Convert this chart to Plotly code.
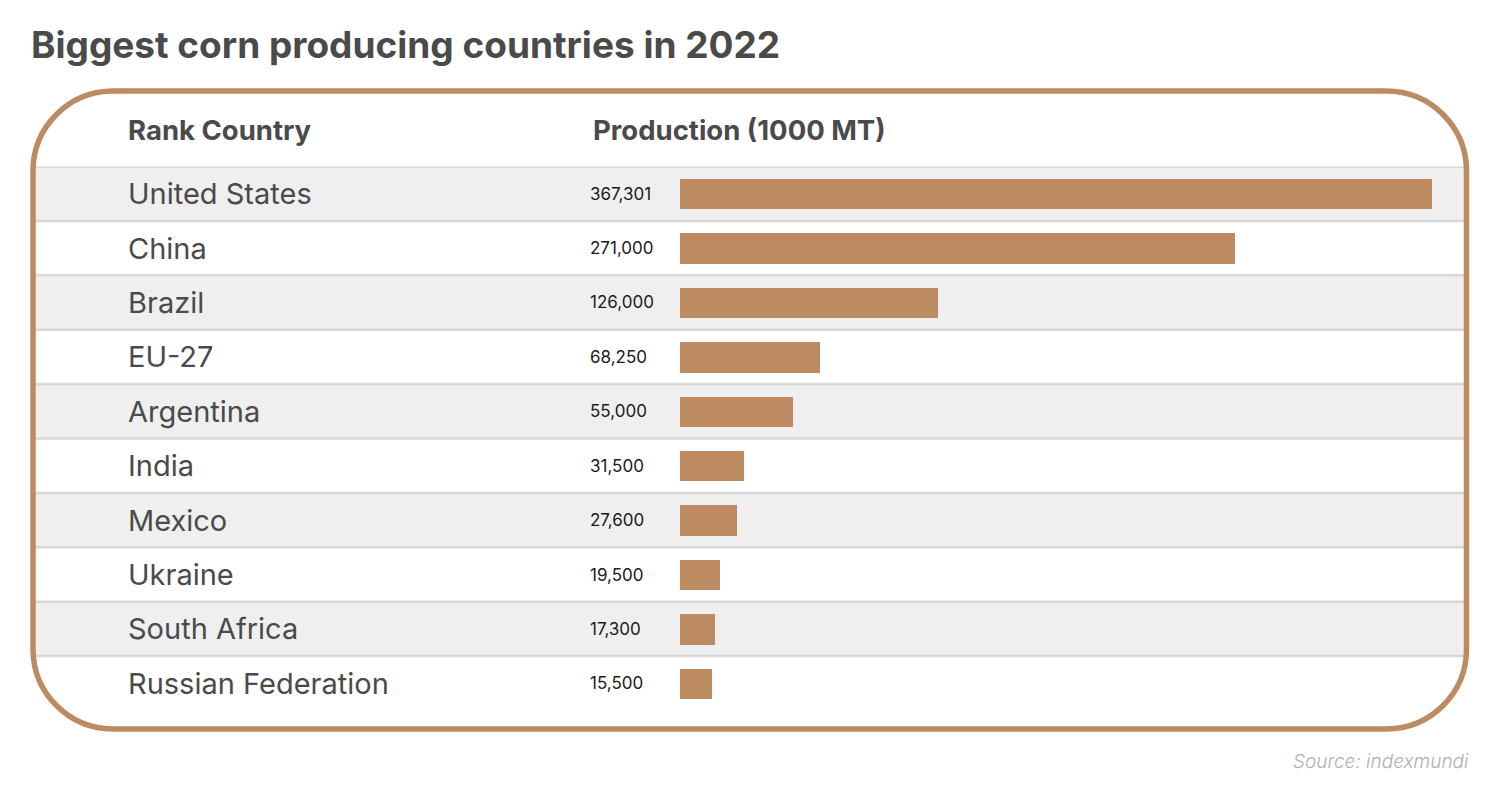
import plotly.graph_objects as go

countries = ["United States", "China", "Brazil", "EU-27", "Argentina", "India",
             "Mexico", "Ukraine", "South Africa", "Russian Federation"]
production = [367301, 271000, 126000, 68250, 55000, 31500, 27600, 19500, 17300, 15500]

title_text = "Biggest corn producing countries in 2022"
header_left = "Rank Country"
header_right = "Production (1000 MT)"
source_text = "Source: indexmundi"

W, H = 1500, 812
OFF = 8  # page body margin
BORDER = "#bc8b62"
BAR = "#bc8b62"
FONT = "Inter"


def px(x):
    return (x - OFF) / W


def py(y):
    return 1 - (y - OFF) / H


n = len(countries)
row_top, row_bot = 166.5, 710.5
fig = go.Figure()
fig.add_trace(go.Bar(
    y=countries, x=production, orientation="h",
    marker=dict(color=BAR, line=dict(width=0)), width=0.56,
    hoverinfo="skip",
))

shapes = []
for i in range(0, n, 2):
    shapes.append(dict(type="rect", xref="paper", yref="y", x0=px(35), x1=px(1465),
                       y0=i - 0.5, y1=i + 0.5, fillcolor="#efefef", line=dict(width=0),
                       layer="below"))
for i in range(n):
    shapes.append(dict(type="line", xref="paper", yref="y", x0=px(35), x1=px(1465),
                       y0=i - 0.5, y1=i - 0.5, line=dict(color="#d7d7d7", width=2.5),
                       layer="below"))

x0, x1, y0, y1, r = 33, 1466.5, 91, 729, 80
k = 0.5523 * r


def P(x, y):
    return f"{px(x):.6f},{py(y):.6f}"


path = (f"M {P(x0 + r, y0)} L {P(x1 - r, y0)} "
        f"C {P(x1 - r + k, y0)} {P(x1, y0 + r - k)} {P(x1, y0 + r)} "
        f"L {P(x1, y1 - r)} "
        f"C {P(x1, y1 - r + k)} {P(x1 - r + k, y1)} {P(x1 - r, y1)} "
        f"L {P(x0 + r, y1)} "
        f"C {P(x0 + r - k, y1)} {P(x0, y1 - r + k)} {P(x0, y1 - r)} "
        f"L {P(x0, y0 + r)} "
        f"C {P(x0, y0 + r - k)} {P(x0 + r - k, y0)} {P(x0 + r, y0)} Z")
shapes.append(dict(type="path", xref="paper", yref="paper", path=path,
                   line=dict(color=BORDER, width=5.5), layer="above"))

annotations = [
    dict(text=f"<b>{title_text}</b>", x=px(29), y=py(45), xref="paper", yref="paper",
         xanchor="left", yanchor="middle", showarrow=False,
         font=dict(family=FONT, size=37, color="#4a4a4a")),
    dict(text=f"<b>{header_left}</b>", x=px(126), y=py(130), xref="paper", yref="paper",
         xanchor="left", yanchor="middle", showarrow=False,
         font=dict(family=FONT, size=27.5, color="#4a4a4a")),
    dict(text=f"<b>{header_right}</b>", x=px(591), y=py(130), xref="paper", yref="paper",
         xanchor="left", yanchor="middle", showarrow=False,
         font=dict(family=FONT, size=27.5, color="#4a4a4a")),
    dict(text=f"<i>{source_text}</i>", x=px(1471), y=py(761), xref="paper", yref="paper",
         xanchor="right", yanchor="middle", showarrow=False,
         font=dict(family=FONT, size=19, color="#b0b0b0", weight=300)),
]
for c, v in zip(countries, production):
    annotations.append(dict(text=c, x=px(126), y=c, xref="paper", yref="y",
                            xanchor="left", yanchor="middle", showarrow=False,
                            font=dict(family=FONT, size=29, color="#4a4a4a")))
    annotations.append(dict(text=f"{v:,}", x=px(588), y=c, xref="paper", yref="y",
                            xanchor="left", yanchor="middle", showarrow=False,
                            font=dict(family=FONT, size=17, color="#1a1a1a")))

fig.update_layout(
    width=W, height=H, margin=dict(l=0, r=0, t=0, b=0),
    paper_bgcolor="white", plot_bgcolor="rgba(0,0,0,0)",
    showlegend=False, bargap=0,
    xaxis=dict(domain=[px(680), px(1432)], range=[0, max(production)],
               visible=False, fixedrange=True),
    yaxis=dict(domain=[py(row_bot), py(row_top)], type="category",
               categoryorder="array", categoryarray=countries,
               range=[n - 0.5, -0.5], visible=False, fixedrange=True),
    shapes=shapes, annotations=annotations,
)
fig.write_html("out.html")
